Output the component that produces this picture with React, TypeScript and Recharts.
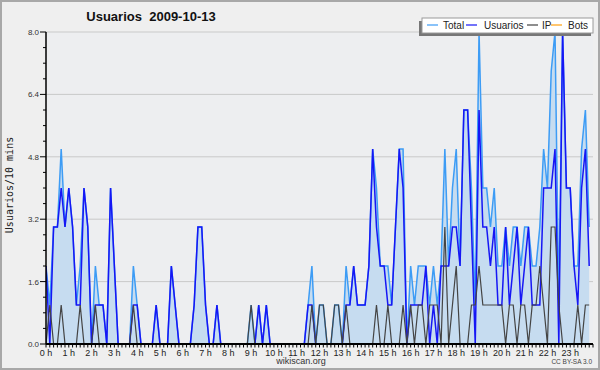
import React from "react";
import { ComposedChart, Area, Line, XAxis, YAxis, CartesianGrid } from "recharts";

// 10-minute slots: 6 per hour, 144 for the day
const hourLabels = [
  "0 h", "1 h", "2 h", "3 h", "4 h", "5 h", "6 h", "7 h", "8 h", "9 h", "10 h", "11 h",
  "12 h", "13 h", "14 h", "15 h", "16 h", "17 h", "18 h", "19 h", "20 h", "21 h", "22 h", "23 h",
];
const yMajorTicks = [0, 1.6, 3.2, 4.8, 6.4, 8.0];

const total = [
  2, 1, 3, 3, 5, 3, 4, 3, 1, 2, 4, 3, 0, 2, 1, 1, 0, 4, 2, 0, 0, 0, 0, 2,
  1, 0, 0, 0, 0, 1, 0, 0, 0, 2, 1, 0, 0, 0, 0, 1, 3, 3, 1, 0, 0, 1, 0, 0,
  0, 0, 0, 0, 0, 0, 1, 0, 1, 0, 1, 0, 0, 0, 0, 0, 0, 0, 0, 0, 0, 1, 2, 0,
  1, 1, 0, 0, 1, 1, 0, 2, 1, 2, 1, 1, 1, 2, 5, 4, 2, 2, 2, 1, 3, 5, 5, 0,
  2, 1, 2, 2, 2, 1, 2, 1, 2, 5, 2, 4, 5, 2, 6, 6, 4, 1, 8, 4, 4, 3, 4, 2,
  2, 3, 2, 3, 3, 2, 3, 3, 2, 2, 3, 5, 4, 7, 8, 1, 8, 4, 4, 2, 2, 5, 6, 3,
];
const usuarios = [
  2, 0, 3, 3, 4, 3, 4, 3, 1, 1, 4, 3, 0, 1, 1, 1, 0, 4, 2, 0, 0, 0, 0, 1,
  1, 0, 0, 0, 0, 1, 0, 0, 0, 2, 1, 0, 0, 0, 0, 1, 3, 3, 1, 0, 0, 1, 0, 0,
  0, 0, 0, 0, 0, 0, 0, 0, 1, 0, 1, 0, 0, 0, 0, 0, 0, 0, 0, 0, 0, 1, 1, 0,
  0, 0, 0, 0, 0, 0, 0, 1, 1, 2, 1, 1, 1, 2, 5, 3, 2, 2, 1, 1, 3, 5, 4, 0,
  1, 1, 1, 1, 2, 0, 1, 0, 2, 2, 2, 3, 3, 2, 6, 6, 3, 0, 6, 3, 3, 2, 3, 1,
  1, 3, 1, 2, 3, 1, 2, 3, 1, 1, 1, 4, 4, 4, 5, 0, 8, 4, 4, 2, 1, 4, 5, 2,
];
const ip = [
  0, 1, 0, 0, 1, 0, 0, 0, 0, 1, 0, 0, 0, 1, 0, 0, 0, 0, 0, 0, 0, 0, 0, 1,
  0, 0, 0, 0, 0, 0, 0, 0, 0, 0, 0, 0, 0, 0, 0, 0, 0, 0, 0, 0, 0, 0, 0, 0,
  0, 0, 0, 0, 0, 0, 1, 0, 0, 0, 0, 0, 0, 0, 0, 0, 0, 0, 0, 0, 0, 0, 1, 0,
  1, 1, 0, 0, 1, 1, 0, 1, 0, 0, 0, 0, 0, 0, 0, 1, 0, 0, 1, 0, 0, 0, 1, 0,
  1, 0, 1, 1, 0, 1, 1, 1, 0, 3, 0, 1, 2, 0, 0, 0, 1, 1, 2, 1, 1, 1, 1, 1,
  1, 0, 1, 1, 0, 1, 1, 0, 1, 1, 2, 1, 0, 3, 3, 1, 0, 0, 0, 0, 1, 0, 1, 1,
];
const bots = [
  0, 0, 0, 0, 0, 0, 0, 0, 0, 0, 0, 0, 0, 0, 0, 0, 0, 0, 0, 0, 0, 0, 0, 0,
  0, 0, 0, 0, 0, 0, 0, 0, 0, 0, 0, 0, 0, 0, 0, 0, 0, 0, 0, 0, 0, 0, 0, 0,
  0, 0, 0, 0, 0, 0, 0, 0, 0, 0, 0, 0, 0, 0, 0, 0, 0, 0, 0, 0, 0, 0, 0, 0,
  0, 0, 0, 0, 0, 0, 0, 0, 0, 0, 0, 0, 0, 0, 0, 0, 0, 0, 0, 0, 0, 0, 0, 0,
  0, 0, 0, 0, 0, 0, 0, 0, 0, 0, 0, 0, 0, 0, 0, 0, 0, 0, 0, 0, 0, 0, 0, 0,
  0, 0, 0, 0, 0, 0, 0, 0, 0, 0, 0, 0, 0, 0, 0, 0, 0, 0, 0, 0, 0, 0, 0, 0,
];

const COLORS = {
  total: "#3d9cf5",
  fill: "#c6dcf0",
  usuarios: "#1616f5",
  ip: "#444444",
  bots: "#ffa010",
};

const FONT = "'Liberation Sans', Arial, sans-serif";

const data = total.map((t, i) => ({
  slot: i,
  total: t,
  usuarios: usuarios[i],
  ip: ip[i],
  bots: bots[i],
}));

const slotTicks = Array.from({ length: 145 }, (_, i) => i);
const yTicks = Array.from({ length: 21 }, (_, k) => Number((k * 0.4).toFixed(1)));

const XTick = (props: any) => {
  const { x, y, payload } = props;
  const i = payload.value;
  const label = i % 6 === 0 ? hourLabels[i / 6] : null;
  return (
    <g>
      <line x1={x} x2={x} y1={y} y2={y + 3.5} stroke="#000" strokeWidth={1} />
      {label && (
        <text x={x} y={y + 11.5} textAnchor="middle" fontSize={9} fontFamily={FONT} fill="#222">
          {label}
        </text>
      )}
    </g>
  );
};

const YTick = (props: any) => {
  const { x, y, payload } = props;
  const v = payload.value;
  const major = yMajorTicks.some((m) => Math.abs(m - v) < 1e-6);
  return (
    <g>
      <line x1={x - (major ? 6 : 3)} x2={x} y1={y} y2={y} stroke="#000" strokeWidth={1} />
      {major && (
        <text x={x - 7} y={y + 3} textAnchor="end" fontSize={8} fontFamily={FONT} fill="#333">
          {v.toFixed(1)}
        </text>
      )}
    </g>
  );
};

const legendItems = [
  { name: "Total", color: COLORS.total, lx: 427, tx: 443 },
  { name: "Usuarios", color: COLORS.usuarios, lx: 466, tx: 484 },
  { name: "IP", color: COLORS.ip, lx: 527, tx: 542 },
  { name: "Bots", color: COLORS.bots, lx: 551, tx: 568 },
];

export default function App() {
  return (
    <div
      style={{
        position: "absolute",
        left: 0,
        top: 0,
        width: 600,
        height: 370,
        background: "#efefef",
        border: "2px solid #a8a8a8",
        boxSizing: "border-box",
        overflow: "hidden",
      }}
    >
      <div style={{ position: "absolute", left: -2, top: -2 }}>
        <ComposedChart
          width={600}
          height={370}
          data={data}
          margin={{ top: 32, right: 7, bottom: 0, left: 0 }}
        >
          <CartesianGrid
            vertical={false}
            horizontalValues={yMajorTicks}
            stroke="#c9c9c9"
            fill="#edeef0"
          />
          <Area
            type="linear"
            dataKey="total"
            stroke={COLORS.total}
            strokeWidth={1.5}
            fill={COLORS.fill}
            fillOpacity={1}
            dot={false}
            isAnimationActive={false}
          />
          <Line type="linear" dataKey="usuarios" stroke={COLORS.usuarios} strokeWidth={1.5} dot={false} isAnimationActive={false} />
          <Line type="linear" dataKey="ip" stroke={COLORS.ip} strokeWidth={1.2} dot={false} isAnimationActive={false} />
          <Line type="linear" dataKey="bots" stroke={COLORS.bots} strokeWidth={1.2} dot={false} isAnimationActive={false} />
          <XAxis
            dataKey="slot"
            type="number"
            domain={[0, 144]}
            ticks={slotTicks}
            interval={0}
            height={26}
            tickSize={0}
            tickMargin={0}
            tick={<XTick />}
            axisLine={{ stroke: "#000", strokeWidth: 2 }}
            allowDataOverflow
          />
          <YAxis
            type="number"
            domain={[0, 8]}
            ticks={yTicks}
            interval={0}
            width={46}
            tickSize={0}
            tickMargin={0}
            tick={<YTick />}
            axisLine={{ stroke: "#000", strokeWidth: 1.5 }}
            allowDataOverflow
          />
        </ComposedChart>
      </div>
      <svg
        width={600}
        height={370}
        style={{ position: "absolute", left: -2, top: -2, pointerEvents: "none" }}
      >
        <text x={151} y={21} textAnchor="middle" fontSize={13} fontWeight="bold" fontFamily={FONT} fill="#111">
          Usuarios{"\u00a0\u00a0"}2009-10-13
        </text>
        <text
          x={13}
          y={185}
          transform="rotate(-90 13 185)"
          textAnchor="middle"
          fontSize={10}
          fontFamily="'DejaVu Sans Mono', monospace"
          fill="#222"
        >
          Usuarios/10 mins
        </text>
        <text x={301} y={364} textAnchor="middle" fontSize={9} fontFamily={FONT} fill="#333">
          wikiscan.org
        </text>
        <text x={592} y={364} textAnchor="end" fontSize={6.5} fontFamily={FONT} fill="#444">
          CC BY-SA 3.0
        </text>
        <rect x={419} y={21} width={172} height={15} fill="#777" />
        <rect x={422} y={18} width={171} height={15} fill="#fff" stroke="#9a9a9a" strokeWidth={1} />
        {legendItems.map((it) => (
          <g key={it.name}>
            <line x1={it.lx} x2={it.lx + 11} y1={25} y2={25} stroke={it.color} strokeWidth={1.2} />
            <text x={it.tx} y={28.5} fontSize={10} fontFamily={FONT} fill="#222">
              {it.name}
            </text>
          </g>
        ))}
      </svg>
    </div>
  );
}
